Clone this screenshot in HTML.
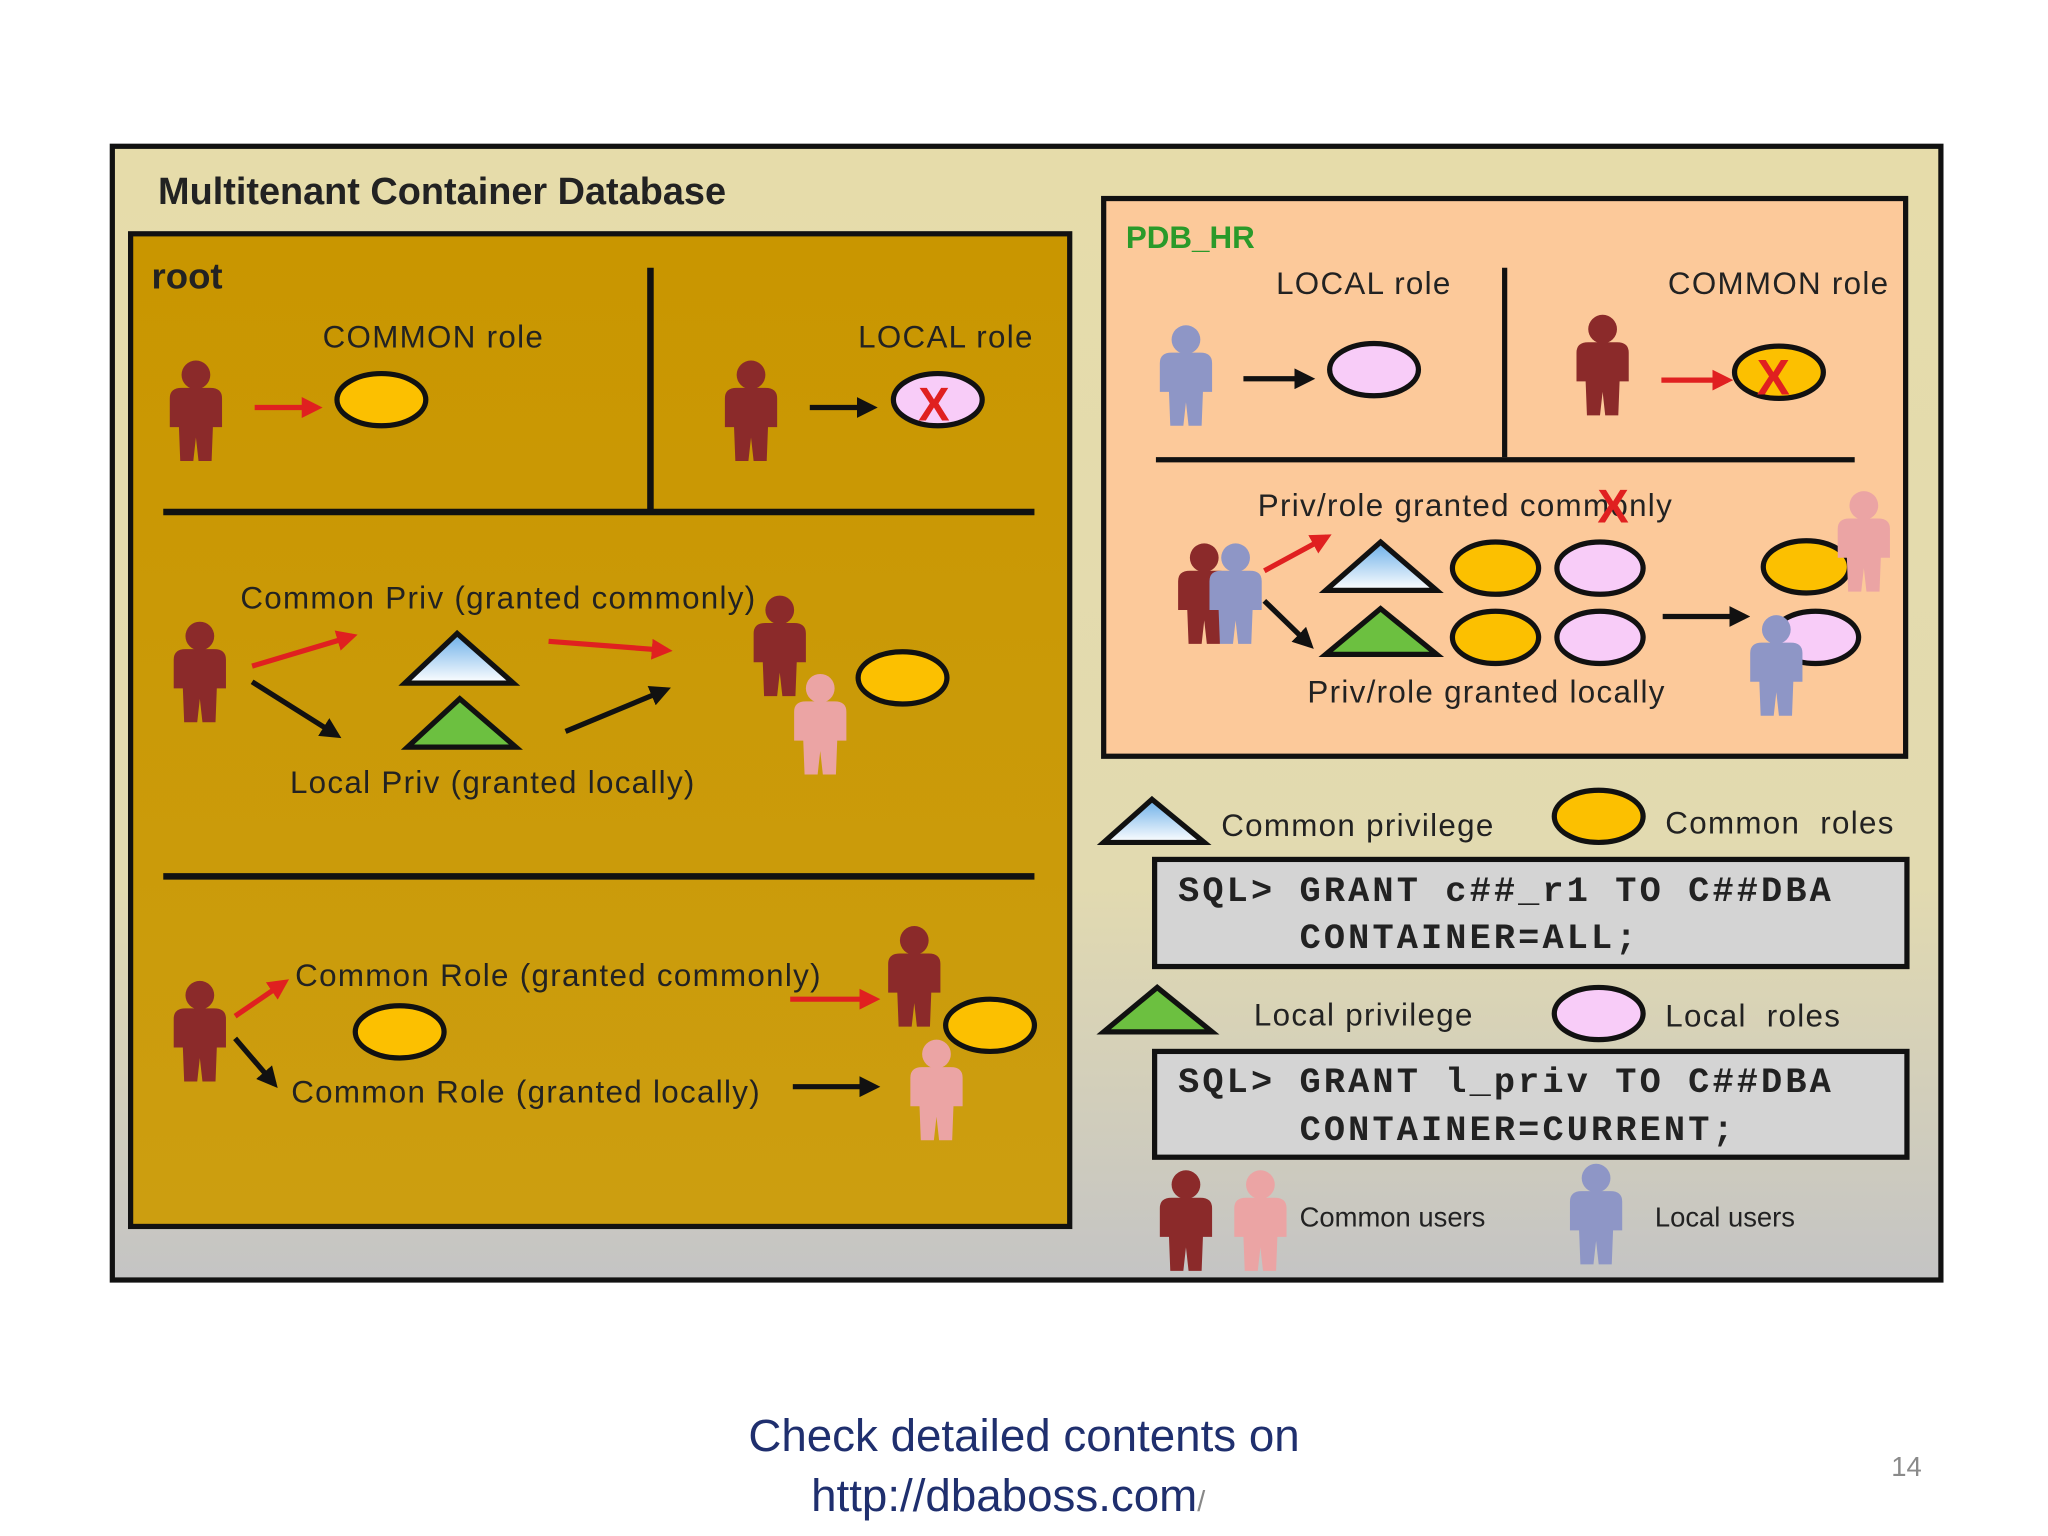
<!DOCTYPE html>
<html><head><meta charset="utf-8"><style>
html,body{margin:0;padding:0;background:#fff;width:2048px;height:1536px;overflow:hidden}
svg{display:block}
text{font-family:"Liberation Sans",sans-serif;fill:#222}
.l{letter-spacing:1px}
.m{font-family:"Liberation Mono",monospace;font-size:27px;font-weight:bold;fill:#222;letter-spacing:2.4px}
</style></head><body>
<svg width="2048" height="1536" viewBox="0 0 1568 1176" xmlns="http://www.w3.org/2000/svg">
<defs>
<linearGradient id="bg" x1="0" y1="0" x2="0" y2="1">
<stop offset="0" stop-color="#e6dcaa"/><stop offset="0.65" stop-color="#e2dab0"/><stop offset="1" stop-color="#c4c4c4"/></linearGradient>
<linearGradient id="rt" x1="0" y1="0" x2="0" y2="1">
<stop offset="0" stop-color="#c99600"/><stop offset="1" stop-color="#cc9e10"/></linearGradient>
<linearGradient id="bt" x1="0" y1="0" x2="0" y2="1">
<stop offset="0" stop-color="#6aaee8"/><stop offset="1" stop-color="#ffffff"/></linearGradient>
<marker id="ar" markerWidth="4" markerHeight="4" refX="3" refY="2" orient="auto" markerUnits="strokeWidth"><path d="M0,0 L4,2 L0,4 Z" fill="#e02020"/></marker>
<marker id="ab" markerWidth="4" markerHeight="4" refX="3" refY="2" orient="auto" markerUnits="strokeWidth"><path d="M0,0 L4,2 L0,4 Z" fill="#111"/></marker>
<g id="p"><circle cx="0" cy="-28" r="11"/><path d="M-20,-10 Q-20,-18 -11,-18 L11,-18 Q20,-18 20,-10 L20,12 L13,12 L12,38 L2,38 L0,20 L-2,38 L-12,38 L-13,12 L-20,12 Z"/></g>
</defs>
<rect width="1568" height="1176" fill="#fff"/>
<rect x="86" y="112" width="1400" height="868" fill="url(#bg)" stroke="#111" stroke-width="4"/>
<text x="121" y="156" font-size="29" font-weight="bold">Multitenant Container Database</text>
<rect x="100" y="179" width="719" height="760" fill="url(#rt)" stroke="#111" stroke-width="4"/>
<text x="116" y="221" font-size="28" font-weight="bold">root</text>
<g fill="none" stroke="#111" stroke-width="5"><line x1="498" y1="205" x2="498" y2="390"/><line x1="125" y1="392" x2="792" y2="392"/><line x1="125" y1="671" x2="792" y2="671"/></g>
<text class="l" x="247" y="266" font-size="24">COMMON role</text>
<text class="l" x="657" y="266" font-size="24">LOCAL role</text>
<use href="#p" x="150" y="315" fill="#8b2a2a"/>
<use href="#p" x="575" y="315" fill="#8b2a2a"/>
<line x1="195" y1="312" x2="243" y2="312" stroke="#e02020" stroke-width="4" marker-end="url(#ar)"/>
<line x1="620" y1="312" x2="668" y2="312" stroke="#111" stroke-width="4" marker-end="url(#ab)"/>
<ellipse cx="292" cy="306" rx="34" ry="20" fill="#fcc000" stroke="#111" stroke-width="4"/>
<ellipse cx="718" cy="306" rx="34" ry="20" fill="#f8ccf8" stroke="#111" stroke-width="4"/>
<text x="703" y="322" font-size="36" font-weight="bold" style="fill:#e02020">X</text>
<text class="l" x="184" y="466" font-size="24">Common Priv (granted commonly)</text>
<text class="l" x="222" y="607" font-size="24">Local Priv (granted locally)</text>
<use href="#p" x="153" y="515" fill="#8b2a2a"/>
<line x1="193" y1="510" x2="270" y2="487" stroke="#e02020" stroke-width="4" marker-end="url(#ar)"/>
<line x1="193" y1="522" x2="258" y2="563" stroke="#111" stroke-width="4" marker-end="url(#ab)"/>
<polygon points="350,485 393,523 310,523" fill="url(#bt)" stroke="#111" stroke-width="4"/>
<polygon points="352,535 395,572 312,572" fill="#6cc040" stroke="#111" stroke-width="4"/>
<line x1="420" y1="491" x2="511" y2="498" stroke="#e02020" stroke-width="4" marker-end="url(#ar)"/>
<line x1="433" y1="560" x2="510" y2="528" stroke="#111" stroke-width="4" marker-end="url(#ab)"/>
<use href="#p" x="597" y="495" fill="#8b2a2a"/>
<use href="#p" x="628" y="555" fill="#eba4a4"/>
<ellipse cx="691" cy="519" rx="34" ry="20" fill="#fcc000" stroke="#111" stroke-width="4"/>
<use href="#p" x="153" y="790" fill="#8b2a2a"/>
<line x1="180" y1="778" x2="218" y2="752" stroke="#e02020" stroke-width="4" marker-end="url(#ar)"/>
<line x1="180" y1="795" x2="210" y2="830" stroke="#111" stroke-width="4" marker-end="url(#ab)"/>
<text class="l" x="226" y="755" font-size="24">Common Role (granted commonly)</text>
<text class="l" x="223" y="844" font-size="24">Common Role (granted locally)</text>
<ellipse cx="306" cy="790" rx="34" ry="20" fill="#fcc000" stroke="#111" stroke-width="4"/>
<line x1="605" y1="765" x2="670" y2="765" stroke="#e02020" stroke-width="4" marker-end="url(#ar)"/>
<line x1="607" y1="832" x2="670" y2="832" stroke="#111" stroke-width="4" marker-end="url(#ab)"/>
<use href="#p" x="700" y="748" fill="#8b2a2a"/>
<ellipse cx="758" cy="785" rx="34" ry="20" fill="#fcc000" stroke="#111" stroke-width="4"/>
<use href="#p" x="717" y="835" fill="#eba4a4"/>
<rect x="845" y="152" width="614" height="427" fill="#fcc99a" stroke="#111" stroke-width="4"/>
<text x="862" y="190" font-size="24" font-weight="bold" style="fill:#2a9a2a">PDB_HR</text>
<text class="l" x="977" y="225" font-size="24">LOCAL role</text>
<text class="l" x="1277" y="225" font-size="24">COMMON role</text>
<g fill="none" stroke="#111" stroke-width="4"><line x1="1152" y1="205" x2="1152" y2="350"/><line x1="885" y1="352" x2="1420" y2="352"/></g>
<use href="#p" x="908" y="288" fill="#8e96c6"/>
<line x1="952" y1="290" x2="1003" y2="290" stroke="#111" stroke-width="4" marker-end="url(#ab)"/>
<ellipse cx="1052" cy="283" rx="34" ry="20" fill="#f8ccf8" stroke="#111" stroke-width="4"/>
<use href="#p" x="1227" y="280" fill="#8b2a2a"/>
<line x1="1272" y1="291" x2="1323" y2="291" stroke="#e02020" stroke-width="4" marker-end="url(#ar)"/>
<ellipse cx="1362" cy="285" rx="34" ry="20" fill="#fcc000" stroke="#111" stroke-width="4"/>
<text x="1345" y="302" font-size="38" font-weight="bold" style="fill:#e02020">X</text>
<text class="l" x="963" y="395" font-size="24">Priv/role granted commonly</text>
<text x="1223" y="400" font-size="36" font-weight="bold" style="fill:#e02020">X</text>
<use href="#p" x="922" y="455" fill="#8b2a2a"/>
<use href="#p" x="946" y="455" fill="#8e96c6"/>
<line x1="968" y1="437" x2="1016" y2="411" stroke="#e02020" stroke-width="4" marker-end="url(#ar)"/>
<line x1="968" y1="460" x2="1003" y2="494" stroke="#111" stroke-width="4" marker-end="url(#ab)"/>
<polygon points="1057,415 1100,452 1015,452" fill="url(#bt)" stroke="#111" stroke-width="4"/>
<polygon points="1057,466 1100,501 1015,501" fill="#6cc040" stroke="#111" stroke-width="4"/>
<g stroke="#111" stroke-width="4">
<ellipse cx="1145" cy="435" rx="33" ry="20" fill="#fcc000"/><ellipse cx="1145" cy="488" rx="33" ry="20" fill="#fcc000"/>
<ellipse cx="1225" cy="435" rx="33" ry="20" fill="#f8ccf8"/><ellipse cx="1225" cy="488" rx="33" ry="20" fill="#f8ccf8"/>
<ellipse cx="1383" cy="434" rx="33" ry="20" fill="#fcc000"/><ellipse cx="1390" cy="488" rx="33" ry="20" fill="#f8ccf8"/></g>
<line x1="1273" y1="472" x2="1336" y2="472" stroke="#111" stroke-width="4" marker-end="url(#ab)"/>
<use href="#p" x="1427" y="415" fill="#eba4a4"/>
<use href="#p" x="1360" y="510" fill="#8e96c6"/>
<text class="l" x="1001" y="538" font-size="24">Priv/role granted locally</text>
<polygon points="882,612 922,645 845,645" fill="url(#bt)" stroke="#111" stroke-width="4"/>
<text class="l" x="935" y="640" font-size="24">Common  privilege</text>
<ellipse cx="1224" cy="625" rx="34" ry="20" fill="#fcc000" stroke="#111" stroke-width="4"/>
<text class="l" x="1275" y="638" font-size="24" xml:space="preserve">Common  roles</text>
<rect x="884" y="658" width="576" height="82" fill="#d4d4d4" stroke="#111" stroke-width="4"/>
<text class="m" x="902" y="690" xml:space="preserve">SQL&gt; GRANT c##_r1 TO C##DBA</text>
<text class="m" x="995" y="726">CONTAINER=ALL;</text>
<polygon points="886,756 928,790 845,790" fill="#6cc040" stroke="#111" stroke-width="4"/>
<text class="l" x="960" y="785" font-size="24">Local privilege</text>
<ellipse cx="1224" cy="776" rx="34" ry="20" fill="#f8ccf8" stroke="#111" stroke-width="4"/>
<text class="l" x="1275" y="786" font-size="24" xml:space="preserve">Local  roles</text>
<rect x="884" y="805" width="576" height="81" fill="#d4d4d4" stroke="#111" stroke-width="4"/>
<text class="m" x="902" y="836" xml:space="preserve">SQL&gt; GRANT l_priv TO C##DBA</text>
<text class="m" x="995" y="873">CONTAINER=CURRENT;</text>
<use href="#p" x="908" y="935" fill="#8b2a2a"/>
<use href="#p" x="965" y="935" fill="#eba4a4"/>
<text x="995" y="939" font-size="21">Common users</text>
<use href="#p" x="1222" y="930" fill="#8e96c6"/>
<text x="1267" y="939" font-size="21">Local users</text>
<text x="784" y="1111" font-size="35" text-anchor="middle" style="fill:#1f2f6e">Check detailed contents on</text>
<text x="621" y="1157" font-size="35" style="fill:#1f2f6e">http://dbaboss.com<tspan font-size="22" style="fill:#888">/</tspan></text>
<text x="1448" y="1130" font-size="21" style="fill:#8a8a8a">14</text>
</svg>
</body></html>
